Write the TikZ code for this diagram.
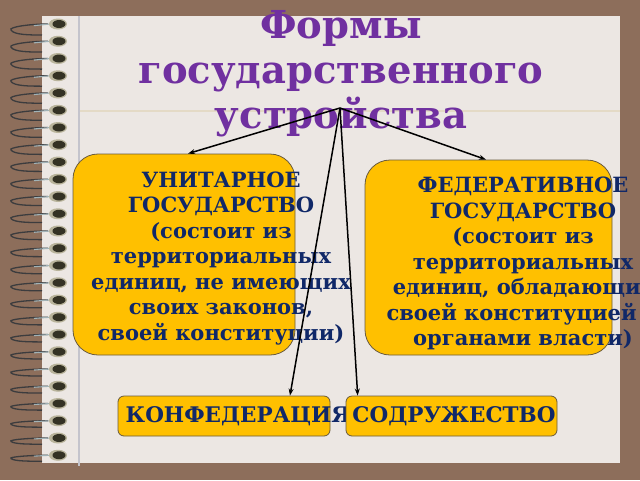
\documentclass[tikz,border=0pt]{standalone}
\usepackage{fontspec}
\setmainfont{DejaVu Serif}
\usetikzlibrary{arrows.meta,calc}
\definecolor{bgbrown}{RGB}{141,110,91}
\definecolor{paper}{RGB}{236,231,227}
\definecolor{ybox}{RGB}{255,192,0}
\definecolor{navy}{RGB}{16,40,104}
\definecolor{ttl}{RGB}{112,48,160}
\definecolor{boxline}{RGB}{105,90,60}
\definecolor{marginline}{RGB}{196,196,204}
\definecolor{ruleline}{RGB}{228,218,198}
\definecolor{wiredark}{RGB}{60,60,62}
\definecolor{wirelight}{RGB}{160,178,182}
\definecolor{beadout}{RGB}{185,180,155}
\definecolor{beadin}{RGB}{52,50,36}
\begin{document}
\begin{tikzpicture}[x=1pt,y=-1pt,
  ybig/.style={draw=boxline,line width=0.8pt,fill=ybox,rounded corners=25pt,inner sep=0pt},
  ysmall/.style={draw=boxline,line width=0.8pt,fill=ybox,rounded corners=6pt,inner sep=0pt},
  boxtext/.style={text=navy,font=\fontsize{21}{25.5}\selectfont\bfseries,align=center,inner sep=0pt},
  bottext/.style={text=navy,font=\fontsize{21.5}{25}\selectfont\bfseries,inner sep=0pt},
  conn/.style={line width=1.5pt,-{Stealth[length=7pt,width=5pt]}},
]
\useasboundingbox (0,0) rectangle (640,480);
\fill[bgbrown] (0,0) rectangle (640,480);
\fill[paper] (42,16) rectangle (620,463);
\draw[ruleline,line width=1.2pt] (80,111) -- (620,111);
\draw[marginline,line width=2pt] (79,16) -- (79,466);
\foreach \i in {0,...,25}{
  \pgfmathsetmacro{\yy}{24+17.25*\i}
  \pgfmathsetmacro{\dd}{11-5*\i/25}
  \draw[wiredark,line width=1.3pt] (48,\yy) .. controls (28,\yy) and (8,\yy+0.3*\dd) .. (11,\yy+0.55*\dd) .. controls (14,\yy+\dd) and (30,\yy+\dd) .. (42,\yy+\dd);
  \draw[wirelight,line width=1.1pt] (50,\yy) .. controls (42,\yy) .. (34,\yy+0.15*\dd);
  \fill[beadout] (58,\yy) ellipse [x radius=9pt, y radius=5.5pt];
  \fill[beadin] (59,\yy) ellipse [x radius=6.5pt, y radius=4pt];
}
\node[text=ttl,font=\fontsize{38.5}{45}\selectfont\bfseries,align=center,inner sep=0pt] (title) at (341,74) {Формы\\государственного\\устройства};
\coordinate (src) at (340,108);
\node[ybig,minimum width=222pt,minimum height=201pt] (uni) at (184,254.5) {};
\node[boxtext] (unitxt) at (221,258.5) {УНИТАРНОЕ\\ГОСУДАРСТВО\\(состоит из\\территориальных\\единиц, не имеющих\\своих законов,\\своей конституции)};
\node[ybig,minimum width=247pt,minimum height=195pt] (fed) at (488.5,257.5) {};
\node[boxtext] (fedtxt) at (523,263.5) {ФЕДЕРАТИВНОЕ\\ГОСУДАРСТВО\\(состоит из\\территориальных\\единиц, обладающих\\своей конституцией и\\органами власти)};
\node[ysmall,minimum width=212pt,minimum height=40pt] (conf) at (224,416) {};
\node[bottext] (conftxt) at (238,416) {КОНФЕДЕРАЦИЯ};
\node[ysmall,minimum width=211pt,minimum height=40pt] (sod) at (451.5,416) {};
\node[bottext] (sodtxt) at (454,416) {СОДРУЖЕСТВО};
\draw[conn] (src) -- ($(uni.north)+(4,0)$);
\draw[conn] (src) -- ($(fed.north)+(-2.5,0)$);
\draw[conn] (src) -- ($(conf.north west)!0.81!(conf.north east)$);
\draw[conn] (src) -- ($(sod.north west)!0.057!(sod.north east)$);
\end{tikzpicture}
\end{document}
